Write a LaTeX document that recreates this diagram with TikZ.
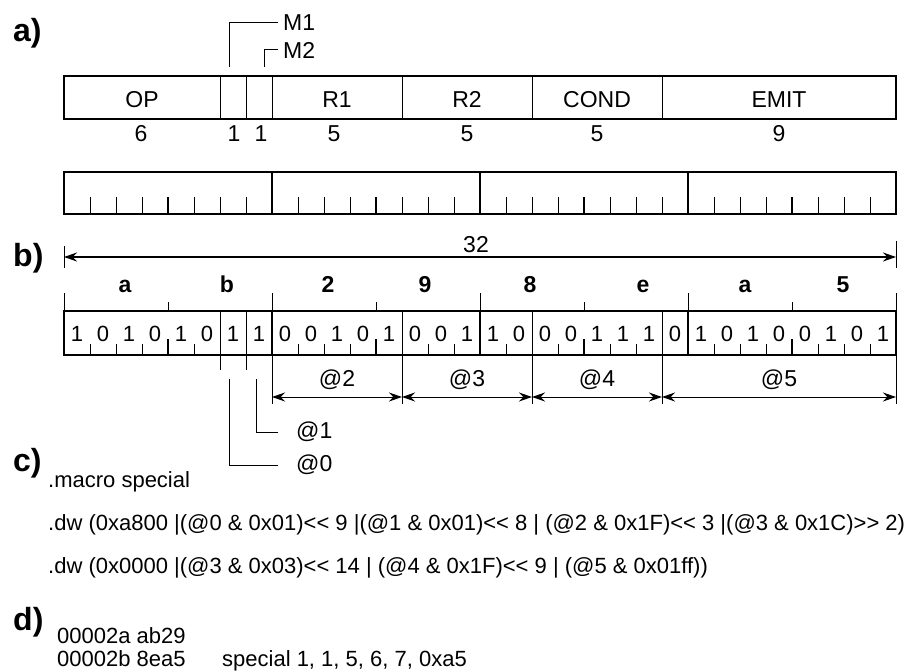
\documentclass[tikz,border=0pt]{standalone}
\usepackage{fontspec}
\setmainfont{Liberation Sans}
\usetikzlibrary{arrows.meta}
\begin{document}
\begin{tikzpicture}[x=1pt,y=-1pt,
  thinln/.style={line width=1pt},
  boxln/.style={line width=1.6pt},
  thickln/.style={line width=2.8pt},
  panel/.style={font=\bfseries\fontsize{32}{34}\selectfont, inner sep=0pt, anchor=base west},
  lbl/.style={font=\fontsize{23}{26}\selectfont, inner sep=0pt, anchor=base},
  bitl/.style={font=\fontsize{22}{26}\selectfont, inner sep=0pt, anchor=base},
  hexl/.style={font=\bfseries\fontsize{23}{26}\selectfont, inner sep=0pt, anchor=base},
  codel/.style={font=\fontsize{22}{26}\selectfont, inner sep=0pt, anchor=base west},
  lead/.style={font=\fontsize{23}{26}\selectfont, inner sep=0pt, anchor=west},
  dimarrow/.style={line width=1pt, {Stealth[length=13pt,width=9pt]}-{Stealth[length=13pt,width=9pt]}}
]
\useasboundingbox (0,0) rectangle (905,671);

% ---------- a) ----------
\node[panel] (pa) at (13,42) {a)};
\draw[boxln] (64,76) rectangle (896,119);
\foreach \x in {220,246,272,402,532,662} \draw[thinln] (\x,76) -- (\x,119);
\node[lbl] (fop)   at (142,108) {OP};
\node[lbl] (fr1)   at (337,108) {R1};
\node[lbl] (fr2)   at (467,108) {R2};
\node[lbl] (fcond) at (597,108) {COND};
\node[lbl] (femit) at (779,108) {EMIT};
\node[lbl] (nop)   at (141,142) {6};
\node[lbl] (nm1)   at (234,142) {1};
\node[lbl] (nm2)   at (261,142) {1};
\node[lbl] (nr1)   at (334,142) {5};
\node[lbl] (nr2)   at (467,142) {5};
\node[lbl] (ncond) at (597,142) {5};
\node[lbl] (nemit) at (779,142) {9};
% M1 / M2 leaders
\coordinate (m1a) at (229,67); \coordinate (m1b) at (229,23); \coordinate (m1c) at (278,23);
\coordinate (m2a) at (264,67); \coordinate (m2b) at (264,50); \coordinate (m2c) at (278,50);
\node[lead] (M1) at (283,23) {M1};
\node[lead] (M2) at (283,50) {M2};
\draw[thinln] (m1a) -- (m1b) -- (m1c);
\draw[thinln] (m2a) -- (m2b) -- (m2c);

% ---------- ruler ----------
\draw[boxln] (64,172) rectangle (896,214);
\foreach \x in {272,480,688} \draw[thickln] (\x,172) -- (\x,214);
\foreach \x in {168,376,584,792} \draw[thickln] (\x,197) -- (\x,214);
\foreach \x in {90,116,142,194,220,246,298,324,350,402,428,454,506,532,558,610,636,662,714,740,766,818,844,870}
  \draw[thinln] (\x,197) -- (\x,214);

% ---------- b) ----------
\node[panel] (pb) at (13,266) {b)};
\coordinate (dL) at (64,257); \coordinate (dR) at (896,257);
\draw[thinln] (64,246) -- (64,268);
\draw[thinln] (896,241) -- (896,268);
\draw[dimarrow] (dL) -- (dR);
\node[lbl] (n32) at (476,253) {32};

% hex digits and ticks
\foreach \h/\x [count=\i] in {a/125,b/227,2/328,9/425,8/530,e/643,a/745,5/843}
  \node[hexl] (hex\i) at (\x,292) {\h};
\foreach \x in {64,272,480,688,896} \draw[thinln] (\x,293) -- (\x,311);
\foreach \x in {168,376,584,792} \draw[thinln] (\x,302) -- (\x,311);

% bit box
\draw[boxln] (64,311) rectangle (896,355);
\foreach \x in {220,246,402,532,662} \draw[thinln] (\x,311) -- (\x,355);
\foreach \x in {272,480,688} \draw[thickln] (\x,311) -- (\x,355);
\foreach \x in {168,376,584,792} \draw[thickln] (\x,339) -- (\x,355);
\foreach \x in {90,116,142,194,298,324,350,428,454,506,558,610,636,714,740,766,818,844,870}
  \draw[thinln] (\x,344) -- (\x,355);
\foreach \b [count=\i from 0] in {1,0,1,0,1,0,1,1,0,0,1,0,1,0,0,1,1,0,0,0,1,1,1,0,1,0,1,0,0,1,0,1}
  \node[bitl] (bit\i) at (77+26*\i,341) {\b};

% extension lines
\foreach \x in {220,246} \draw[thinln] (\x,355) -- (\x,370);
\foreach \x in {272,402,532,662,896} \draw[thinln] (\x,355) -- (\x,404);
% dimension arrows
\coordinate (e2) at (272,397); \coordinate (e3) at (402,397); \coordinate (e4) at (532,397);
\coordinate (e5) at (662,397); \coordinate (e6) at (896,397);
\draw[dimarrow] (e2) -- (e3);
\draw[dimarrow] (e3) -- (e4);
\draw[dimarrow] (e4) -- (e5);
\draw[dimarrow] (e5) -- (e6);
\node[lbl] (a2) at (337,386) {@2};
\node[lbl] (a3) at (467,386) {@3};
\node[lbl] (a4) at (597,386) {@4};
\node[lbl] (a5) at (779,386) {@5};
% @1 / @0 leaders
\coordinate (l1a) at (256,379); \coordinate (l1b) at (256,432); \coordinate (l1c) at (278,432);
\coordinate (l0a) at (229,379); \coordinate (l0b) at (229,465); \coordinate (l0c) at (278,465);
\node[lead] (at1) at (296,432) {@1};
\node[lead] (at0) at (296,465) {@0};
\draw[thinln] (l1a) -- (l1b) -- (l1c);
\draw[thinln] (l0a) -- (l0b) -- (l0c);

% ---------- c) ----------
\node[panel] (pc) at (13,471) {c)};
\node[codel] (c1) at (48,487) {.macro special};
\node[codel] (c2) at (48,530) {.dw (0xa800 |(@0 \& 0x01)<{}< 9 |(@1 \& 0x01)<{}< 8 | (@2 \& 0x1F)<{}< 3 |(@3 \& 0x1C)>{}> 2)};
\node[codel] (c3) at (48,573) {.dw (0x0000 |(@3 \& 0x03)<{}< 14 | (@4 \& 0x1F)<{}< 9 | (@5 \& 0x01ff))};

% ---------- d) ----------
\node[panel] (pd) at (13,630) {d)};
\node[codel] (d1) at (57,643) {00002a ab29};
\node[codel] (d2) at (57,666) {00002b 8ea5};
\node[codel] (d3) at (222,666) {special 1, 1, 5, 6, 7, 0xa5};
\end{tikzpicture}
\end{document}
